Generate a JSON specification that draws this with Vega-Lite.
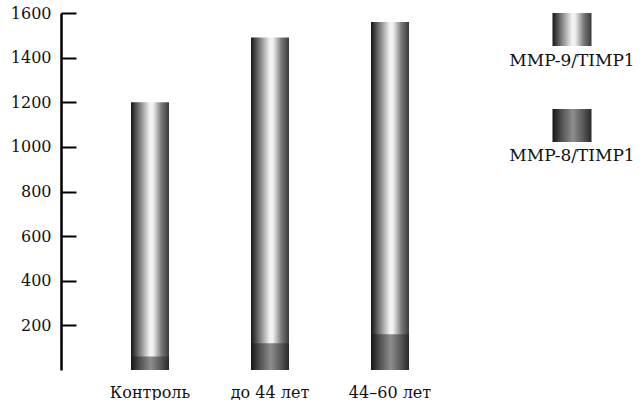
{
  "$schema": "https://vega.github.io/schema/vega-lite/v6.json",
  "background": "white",
  "padding": {"top": 5, "left": 10, "right": 0, "bottom": 0},
  "spacing": 30,
  "config": {
    "view": {"stroke": null},
    "font": "DejaVu Serif",
    "axis": {"labelFont": "DejaVu Serif", "labelFontSize": 16, "labelColor": "#111111"}
  },
  "datasets": {
    "bars": [
      {"group": "Контроль", "series": "MMP-9/TIMP1", "value": 1200},
      {"group": "до 44 лет", "series": "MMP-9/TIMP1", "value": 1490},
      {"group": "44–60 лет", "series": "MMP-9/TIMP1", "value": 1560},
      {"group": "Контроль", "series": "MMP-8/TIMP1", "value": 60},
      {"group": "до 44 лет", "series": "MMP-8/TIMP1", "value": 120},
      {"group": "44–60 лет", "series": "MMP-8/TIMP1", "value": 160}
    ],
    "legend": [
      {"series": "MMP-9/TIMP1"},
      {"series": "MMP-8/TIMP1"}
    ]
  },
  "hconcat": [
    {
      "width": 418,
      "height": 357,
      "data": {"name": "bars"},
      "encoding": {
        "x": {
          "field": "group", "type": "nominal", "sort": null,
          "scale": {"paddingInner": 0, "paddingOuter": 0.2417},
          "axis": {"title": null, "domain": false, "ticks": false, "grid": false, "labelAngle": 0, "labelPadding": 14, "labelBaseline": "top"}
        },
        "y": {
          "field": "value", "type": "quantitative",
          "scale": {"domain": [0, 1600], "nice": false},
          "axis": {
            "title": null, "format": "d",
            "values": [200, 400, 600, 800, 1000, 1200, 1400, 1600],
            "domainColor": "#000000", "domainWidth": 2.5,
            "ticks": false, "labelPadding": 10,
            "grid": true, "gridColor": "#000000", "gridWidth": 2, "gridOpacity": 1,
            "gridDash": [15, 2000]
          }
        }
      },
      "layer": [
        {
          "transform": [{"filter": "datum.series === 'MMP-9/TIMP1'"}],
          "mark": {
            "type": "bar", "width": 38,
            "fill": {
              "gradient": "linear", "x1": 0, "y1": 0, "x2": 1, "y2": 0,
              "stops": [
                {"offset": 0, "color": "#151515"},
                {"offset": 0.2, "color": "#707070"},
                {"offset": 0.5, "color": "#f4f4f4"},
                {"offset": 0.58, "color": "#f0f0f0"},
                {"offset": 0.8, "color": "#7a7a7a"},
                {"offset": 1, "color": "#3a3a3a"}
              ]
            }
          }
        },
        {
          "transform": [{"filter": "datum.series === 'MMP-8/TIMP1'"}],
          "mark": {
            "type": "bar", "width": 38,
            "fill": {
              "gradient": "linear", "x1": 0, "y1": 0, "x2": 1, "y2": 0,
              "stops": [
                {"offset": 0, "color": "#151515"},
                {"offset": 0.25, "color": "#555555"},
                {"offset": 0.52, "color": "#8e8e8e"},
                {"offset": 0.75, "color": "#606060"},
                {"offset": 1, "color": "#2a2a2a"}
              ]
            }
          }
        }
      ]
    },
    {
      "width": 126,
      "height": 129,
      "data": {"name": "legend"},
      "encoding": {
        "y": {
          "field": "series", "type": "nominal", "sort": null,
          "scale": {"type": "point", "padding": 0.172},
          "axis": null
        }
      },
      "layer": [
        {
          "transform": [{"filter": "datum.series === 'MMP-9/TIMP1'"}],
          "mark": {
            "type": "point", "filled": true, "opacity": 1, "size": 1521,
            "shape": "M-1,-0.85H1V0.85H-1Z", "strokeWidth": 0,
            "fill": {
              "gradient": "linear", "x1": 0, "y1": 0, "x2": 1, "y2": 0,
              "stops": [
                {"offset": 0, "color": "#151515"},
                {"offset": 0.2, "color": "#707070"},
                {"offset": 0.5, "color": "#f4f4f4"},
                {"offset": 0.58, "color": "#f0f0f0"},
                {"offset": 0.8, "color": "#7a7a7a"},
                {"offset": 1, "color": "#3a3a3a"}
              ]
            }
          }
        },
        {
          "transform": [{"filter": "datum.series === 'MMP-8/TIMP1'"}],
          "mark": {
            "type": "point", "filled": true, "opacity": 1, "size": 1521,
            "shape": "M-1,-0.85H1V0.85H-1Z", "strokeWidth": 0,
            "fill": {
              "gradient": "linear", "x1": 0, "y1": 0, "x2": 1, "y2": 0,
              "stops": [
                {"offset": 0, "color": "#151515"},
                {"offset": 0.25, "color": "#555555"},
                {"offset": 0.52, "color": "#8e8e8e"},
                {"offset": 0.75, "color": "#606060"},
                {"offset": 1, "color": "#2a2a2a"}
              ]
            }
          }
        },
        {
          "mark": {"type": "text", "dy": 31, "baseline": "middle", "align": "center", "fontSize": 17, "font": "DejaVu Serif", "color": "#111111"},
          "encoding": {"text": {"field": "series", "type": "nominal"}}
        }
      ]
    }
  ]
}
